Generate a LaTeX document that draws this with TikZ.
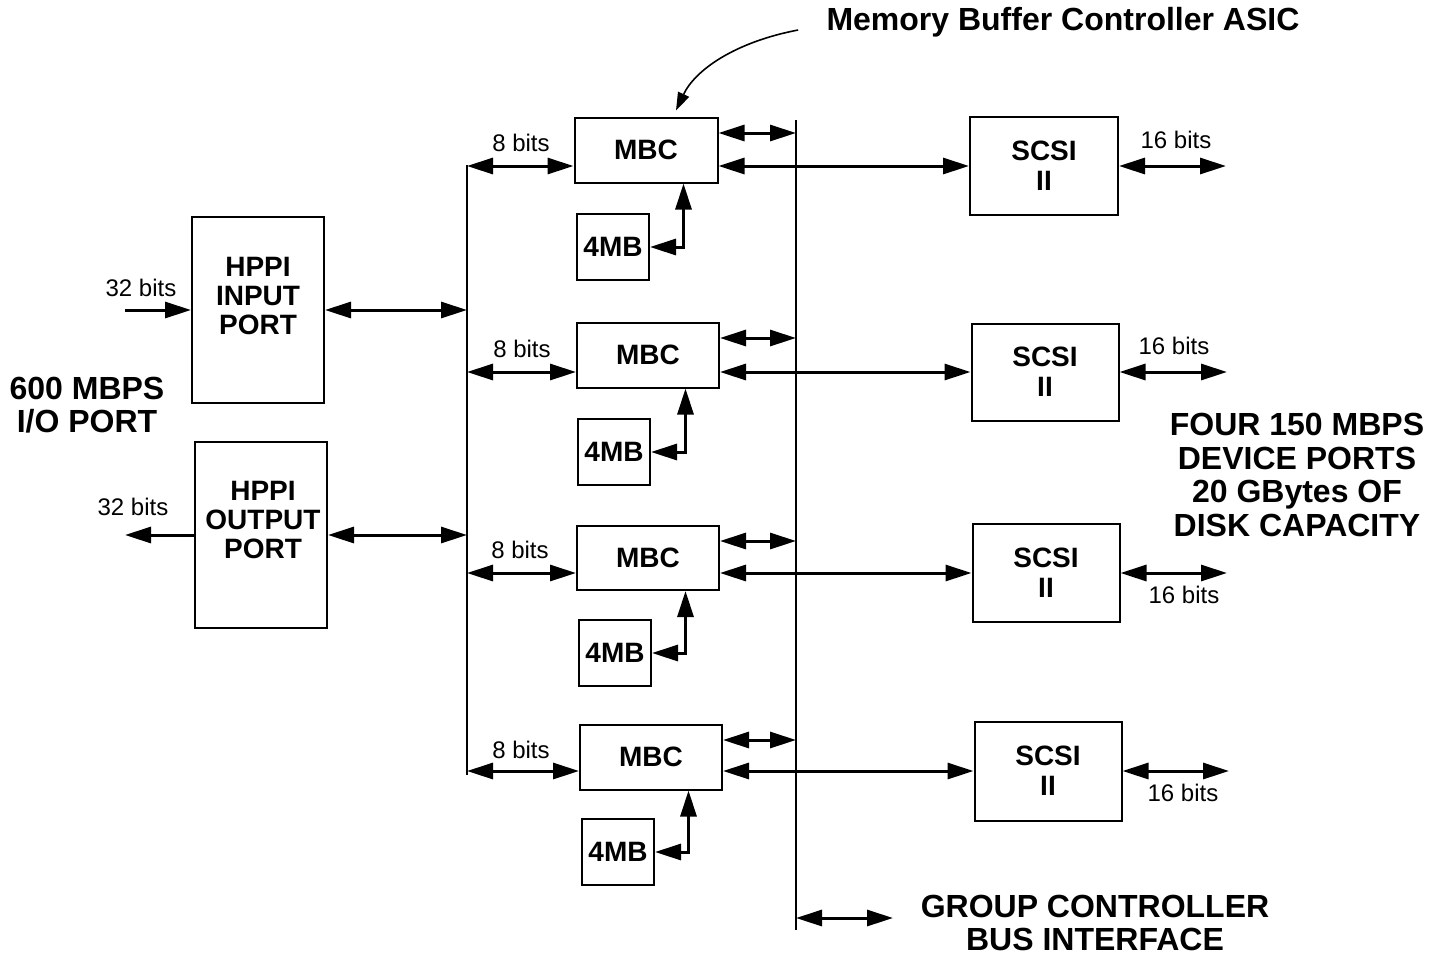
\documentclass[tikz,border=0pt]{standalone}
\usepackage{fontspec}
\setmainfont{Liberation Sans}
\usetikzlibrary{arrows.meta}

\tikzset{
  unit/.style={draw, line width=1pt, inner sep=0pt, align=center,
    font=\fontsize{14}{15}\selectfont\bfseries},
  boxtext/.style={inner sep=0pt, align=center,
    font=\fontsize{14}{14.5}\selectfont\bfseries},
  bits/.style={inner sep=0pt, font=\fontsize{12}{14}\selectfont},
  caption/.style={inner sep=0pt, align=center,
    font=\fontsize{16}{16.8}\selectfont\bfseries},
  link/.style={line width=1.5pt, >={Triangle[length=13pt,width=8pt]}},
  bus/.style={line width=1.2pt},
  pointer/.style={line width=0.8pt, -{Triangle[length=9pt,width=6pt]}}
}

\begin{document}
\begin{tikzpicture}[x=0.5pt,y=-0.5pt]
    \useasboundingbox (0,0) rectangle (1442,955);

    % the two buses
    \coordinate (lbtop) at (467,165);
    \coordinate (lbbot) at (467,775);
    \coordinate (mbtop) at (796,120);
    \coordinate (mbbot) at (796,930);
    \draw [bus] (lbtop) -- (lbbot);
    \draw [bus] (mbtop) -- (mbbot);

    % HPPI ports
    \node [unit, minimum width=66pt, minimum height=93pt] (hin) at (258,310) {};
    \node [boxtext] (hintext) at (258,296) {HPPI\\INPUT\\PORT};
    \coordinate (hinsrc) at (125,310);
    \draw [link,->] (hinsrc) -- (hin.west);
    \node [bits] (hinbits) at (141,288) {32 bits};
    \draw [link,<->] (hin.east) -- (hin.east -| lbtop);

    \node [unit, minimum width=66pt, minimum height=93pt] (hout) at (261,535) {};
    \node [boxtext] (houttext) at (263,520) {HPPI\\OUTPUT\\PORT};
    \coordinate (houtdst) at (125,535);
    \draw [link,->] (hout.west) -- (houtdst);
    \node [bits] (houtbits) at (133,507) {32 bits};
    \draw [link,<->] (hout.east) -- (hout.east -| lbtop);

    % row 1
    \node [unit, minimum width=71.5pt, minimum height=32.5pt] (mbc1) at (646,150) {MBC};
    \node [unit, minimum width=36pt, minimum height=33pt] (mem1) at (613,247) {4MB};
    \node [unit, minimum width=74pt, minimum height=49pt] (scsi1) at (1044,166) {SCSI\\II};
    \coordinate (dev1) at (1226,166);
    \draw [link,<->] (lbtop |- scsi1.west) -- (mbc1.west |- scsi1.west);
    \node [bits] (lbits1) at (521,143) {8 bits};
    \draw [link,<->] ([yshift=8.5pt]mbc1.east) -- ([yshift=8.5pt]mbc1.east -| mbtop);
    \draw [link,<->] (mbc1.east |- scsi1.west) -- (scsi1.west);
    \draw [link,<->] (mem1.east) -| ([xshift=18.75pt]mbc1.south);
    \draw [link,<->] (scsi1.east) -- (dev1);
    \node [bits] (rbits1) at (1176,140) {16 bits};

    % row 2
    \node [unit, minimum width=71pt, minimum height=32.5pt] (mbc2) at (648,355) {MBC};
    \node [unit, minimum width=36pt, minimum height=33pt] (mem2) at (614,452) {4MB};
    \node [unit, minimum width=73.5pt, minimum height=48.5pt] (scsi2) at (1045,372) {SCSI\\II};
    \coordinate (dev2) at (1227,372);
    \draw [link,<->] (lbtop |- scsi2.west) -- (mbc2.west |- scsi2.west);
    \node [bits] (lbits2) at (522,349) {8 bits};
    \draw [link,<->] ([yshift=8.5pt]mbc2.east) -- ([yshift=8.5pt]mbc2.east -| mbtop);
    \draw [link,<->] (mbc2.east |- scsi2.west) -- (scsi2.west);
    \draw [link,<->] (mem2.east) -| ([xshift=18.75pt]mbc2.south);
    \draw [link,<->] (scsi2.east) -- (dev2);
    \node [bits] (rbits2) at (1174,346) {16 bits};

    % row 3
    \node [unit, minimum width=71pt, minimum height=32pt] (mbc3) at (648,558) {MBC};
    \node [unit, minimum width=36pt, minimum height=33pt] (mem3) at (615,653) {4MB};
    \node [unit, minimum width=73.5pt, minimum height=49pt] (scsi3) at (1046,573) {SCSI\\II};
    \coordinate (dev3) at (1227,573);
    \draw [link,<->] (lbtop |- scsi3.west) -- (mbc3.west |- scsi3.west);
    \node [bits] (lbits3) at (520,550) {8 bits};
    \draw [link,<->] ([yshift=8.5pt]mbc3.east) -- ([yshift=8.5pt]mbc3.east -| mbtop);
    \draw [link,<->] (mbc3.east |- scsi3.west) -- (scsi3.west);
    \draw [link,<->] (mem3.east) -| ([xshift=18.75pt]mbc3.south);
    \draw [link,<->] (scsi3.east) -- (dev3);
    \node [bits] (rbits3) at (1184,595) {16 bits};

    % row 4
    \node [unit, minimum width=71pt, minimum height=32.5pt] (mbc4) at (651,757) {MBC};
    \node [unit, minimum width=36pt, minimum height=33pt] (mem4) at (618,852) {4MB};
    \node [unit, minimum width=73.5pt, minimum height=49.5pt] (scsi4) at (1048,771) {SCSI\\II};
    \coordinate (dev4) at (1229,771);
    \draw [link,<->] (lbtop |- scsi4.west) -- (mbc4.west |- scsi4.west);
    \node [bits] (lbits4) at (521,750) {8 bits};
    \draw [link,<->] ([yshift=8.5pt]mbc4.east) -- ([yshift=8.5pt]mbc4.east -| mbtop);
    \draw [link,<->] (mbc4.east |- scsi4.west) -- (scsi4.west);
    \draw [link,<->] (mem4.east) -| ([xshift=18.75pt]mbc4.south);
    \draw [link,<->] (scsi4.east) -- (dev4);
    \node [bits] (rbits4) at (1183,793) {16 bits};

    % group controller bus
    \coordinate (gcb) at (893,918);
    \draw [link,<->] (mbbot |- gcb) -- (gcb);

    % captions
    \node [caption] (asic) at (1063,22) {Memory Buffer Controller ASIC};
    \draw [pointer] ([xshift=-14pt,yshift=-4pt]asic.west)
        .. controls (735,42) and (695,70) .. ([xshift=15pt,yshift=3pt]mbc1.north);
    \node [caption] (ioport) at (87,405) {600 MBPS\\I/O PORT};
    \node [caption] (devports) at (1297,475)%
        {FOUR 150 MBPS\\DEVICE PORTS\\20 GBytes OF\\DISK CAPACITY};
    \node [caption] (gcbus) at (1095,923) {GROUP CONTROLLER\\BUS INTERFACE};
\end{tikzpicture}
\end{document}
